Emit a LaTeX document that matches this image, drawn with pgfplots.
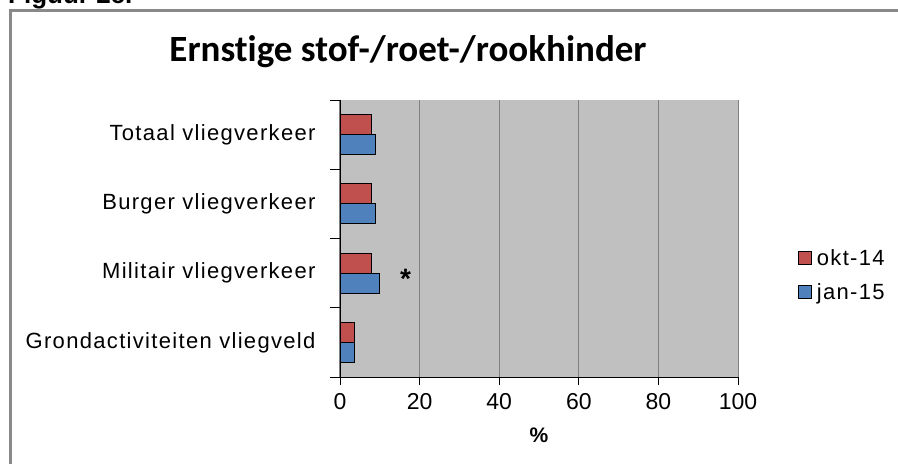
\documentclass[border=0pt]{standalone}
\usepackage{fontspec}
\setmainfont{Liberation Sans}
\newfontfamily\titlefont[Ligatures=NoCommon]{Carlito}
\newfontfamily\lblfont[LetterSpace=6]{Liberation Sans}
\usepackage{pgfplots}
\pgfplotsset{compat=1.18}
\definecolor{okt}{HTML}{C0504D}
\definecolor{jan}{HTML}{4F81BD}
\definecolor{plotbg}{HTML}{C0C0C0}
\definecolor{gridc}{HTML}{808080}
\definecolor{framec}{HTML}{898989}
\begin{document}
\begin{tikzpicture}[x=1pt,y=1pt]
\begin{axis}[
  at={(340pt,87pt)}, anchor=south west,
  scale only axis, width=398pt, height=277pt,
  xbar, bar width=20pt,
  xmin=0, xmax=100, ymin=-0.5, ymax=3.5,
  xtick={0,20,...,100},
  ytick={0,1,2,3},
  yticklabels={Grondactiviteiten vliegveld, Militair vliegverkeer, Burger vliegverkeer, Totaal vliegverkeer},
  minor ytick={-0.5,0.5,1.5,2.5,3.5},
  axis x line*=bottom, axis y line*=left,
  axis line style={black, line width=0.9pt},
  tick align=outside,
  major tick length=8pt, minor tick length=10pt,
  every tick/.style={black, line width=0.9pt},
  every major y tick/.append style={draw=none},
  xmajorgrids, grid style={gridc, line width=1pt},
  axis background/.style={fill=plotbg},
  /pgf/number format/assume math mode=true,
  x tick label style={font=\fontsize{23}{23}\selectfont, yshift=-5pt},
  y tick label style={font=\lblfont\fontsize{22}{22}\selectfont, xshift=-13pt},
  xlabel={\textbf{\%}},
  xlabel style={at={(axis description cs:0.5,0)}, anchor=center, yshift=-58pt, font=\bfseries\fontsize{21}{21}\selectfont},
  legend style={at={(axis description cs:1.143,0.368)}, anchor=west, draw=none, fill=none,
    font=\lblfont\fontsize{22}{22}\selectfont, row sep=12pt},
  legend cell align=left,
  legend image code/.code={\draw[#1, draw=black, line width=0.8pt] (0pt,-6.5pt) rectangle (13pt,6.5pt);},
  every axis legend/.append style={nodes={inner xsep=5pt}},
]
\addplot[fill=okt, draw=black, line width=0.8pt, bar shift=10pt] coordinates {(8,3) (8,2) (8,1) (3.7,0)};
\addplot[fill=jan, draw=black, line width=0.8pt, bar shift=-10pt] coordinates {(9,3) (9,2) (10,1) (3.7,0)};
\legend{okt-14, jan-15}
\node[font=\bfseries\fontsize{28}{28}\selectfont, yshift=-6pt] at (axis cs:16.5,1) {*};
\end{axis}
\node[anchor=base, font=\titlefont\bfseries\fontsize{37}{37}\selectfont] at (408pt,402pt) {Ernstige stof-/roet-/rookhinder};
\draw[framec, line width=3pt] (10pt,0pt) -- (10pt,453pt) -- (898pt,453pt);
\node[anchor=base west, inner sep=0pt, font=\bfseries\fontsize{26}{26}\selectfont] at (8pt,460pt) {Figuur 2c.};
\pgfresetboundingbox
\useasboundingbox (0pt,0pt) rectangle (898pt,464pt);
\end{tikzpicture}
\end{document}
